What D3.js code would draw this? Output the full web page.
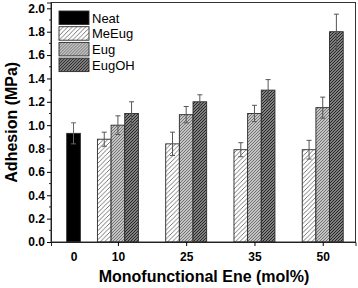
<!DOCTYPE html>
<html>
<head>
<meta charset="utf-8">
<script src="https://cdn.jsdelivr.net/npm/d3@7"></script>
<style>
  body { margin: 0; background: #fff; }
  svg { display: block; font-family: "Liberation Sans", Arial, sans-serif; }
</style>
</head>
<body>
<div id="chart"></div>
<script>
// group labels and their place on the x axis (Origin puts the "0" group closer)
const groupLabels = ['0', '10', '25', '35', '50'];
const groupPos = [0, 0.65, 1.65, 2.65, 3.65];

// Neat only at 0 mol%
const neatVals = [0.93];
const neatErr = [0.09];

// the three enes at 10, 25, 35, 50 mol%
const meEugVals = [0.88, 0.84, 0.79, 0.79];
const meEugErr = [0.06, 0.10, 0.06, 0.08];
const eugVals = [1.00, 1.09, 1.10, 1.15];
const eugErr = [0.08, 0.07, 0.07, 0.09];
const eugOHVals = [1.10, 1.20, 1.30, 1.80];
const eugOHErr = [0.10, 0.06, 0.09, 0.15];

const legendNames = ['Neat', 'MeEug', 'Eug', 'EugOH'];
const yTicks = [0, 0.2, 0.4, 0.6, 0.8, 1.0, 1.2, 1.4, 1.6, 1.8, 2.0];

const width = 358, height = 288;
const margin = { top: 2.5, right: 2.5, bottom: 46, left: 51 };

const svg = d3.select('#chart').append('svg')
    .attr('width', width)
    .attr('height', height);

// hatch patterns
const defs = svg.append('defs');
function hatch(id, bg, line, gap, lw) {
    const p = defs.append('pattern')
        .attr('id', id)
        .attr('patternUnits', 'userSpaceOnUse')
        .attr('width', gap)
        .attr('height', gap);
    p.append('rect').attr('width', gap).attr('height', gap).attr('fill', bg);
    // "/" direction lines, continued over tile edges
    p.append('path')
        .attr('d', `M0,${gap} L${gap},0 M${-gap / 2},${gap / 2} L${gap / 2},${-gap / 2} M${gap / 2},${gap * 1.5} L${gap * 1.5},${gap / 2}`)
        .attr('stroke', line)
        .attr('stroke-width', lw);
}
hatch('hMeEug', '#ffffff', '#555', 4.5, 0.8);
hatch('hEug', '#c4c4c4', '#6a6a6a', 3, 0.9);
hatch('hEugOH', '#808080', '#262626', 3, 1);

const fills = ['#000', 'url(#hMeEug)', 'url(#hEug)', 'url(#hEugOH)'];

const x = d3.scaleLinear()
    .domain([-0.33, 4.13])
    .range([margin.left, width - margin.right]);

const y = d3.scaleLinear()
    .domain([0, 2.05])
    .range([height - margin.bottom, margin.top]);

const barW = x(0.2) - x(0);

// build the bar records
const bars = [];
bars.push({ s: 0, pos: groupPos[0], off: 0, v: neatVals[0], e: neatErr[0] });
[meEugVals, eugVals, eugOHVals].forEach((vals, si) => {
    const errs = [meEugErr, eugErr, eugOHErr][si];
    vals.forEach((v, i) => {
        bars.push({ s: si + 1, pos: groupPos[i + 1], off: si - 1, v: v, e: errs[i] });
    });
});

const g = svg.append('g');

g.selectAll('.bar')
    .data(bars)
    .enter()
    .append('rect')
    .attr('class', 'bar')
    .attr('x', d => x(d.pos) + (d.off - 0.5) * barW)
    .attr('y', d => y(d.v))
    .attr('width', barW)
    .attr('height', d => y(0) - y(d.v))
    .attr('fill', d => fills[d.s])
    .attr('stroke', '#2a2a2a')
    .attr('stroke-width', 0.9);

// error bars
const eb = g.selectAll('.err')
    .data(bars)
    .enter()
    .append('g')
    .attr('class', 'err')
    .attr('stroke', d => d.s === 0 ? '#666' : '#555')
    .attr('stroke-width', 1);
eb.append('line')
    .attr('x1', d => x(d.pos) + d.off * barW)
    .attr('x2', d => x(d.pos) + d.off * barW)
    .attr('y1', d => y(d.v - d.e))
    .attr('y2', d => y(d.v + d.e));
eb.append('line')
    .attr('x1', d => x(d.pos) + d.off * barW - 2.5)
    .attr('x2', d => x(d.pos) + d.off * barW + 2.5)
    .attr('y1', d => y(d.v + d.e))
    .attr('y2', d => y(d.v + d.e));
eb.append('line')
    .attr('x1', d => x(d.pos) + d.off * barW - 2.5)
    .attr('x2', d => x(d.pos) + d.off * barW + 2.5)
    .attr('y1', d => y(d.v - d.e))
    .attr('y2', d => y(d.v - d.e));

// frame
svg.append('rect')
    .attr('x', margin.left)
    .attr('y', margin.top)
    .attr('width', width - margin.left - margin.right)
    .attr('height', height - margin.top - margin.bottom)
    .attr('fill', 'none')
    .attr('stroke', '#333')
    .attr('stroke-width', 1);

// y axis
const yAxis = svg.append('g')
    .attr('transform', `translate(${margin.left},0)`)
    .call(d3.axisLeft(y).tickValues(yTicks).tickFormat(d3.format('.1f')).tickSize(4).tickPadding(2));
yAxis.select('.domain').attr('stroke', '#222');
yAxis.selectAll('text')
    .style('font-size', '12px')
    .style('font-weight', 'bold')
    .style('font-family', '"Liberation Sans", Arial, sans-serif')
    .attr('fill', '#000');

// minor ticks
svg.append('g')
    .selectAll('line')
    .data(d3.range(1, 21, 2).map(k => k / 10))
    .enter()
    .append('line')
    .attr('x1', margin.left - 2)
    .attr('x2', margin.left)
    .attr('y1', d => y(d))
    .attr('y2', d => y(d))
    .attr('stroke', '#222');

// x axis
const xAxis = svg.append('g')
    .attr('transform', `translate(0,${height - margin.bottom})`)
    .call(d3.axisBottom(x).tickValues(groupPos).tickFormat((d, i) => groupLabels[i]).tickSize(4).tickPadding(6));
xAxis.select('.domain').attr('stroke', '#222');
xAxis.selectAll('.tick line').filter((d, i) => i === 0).remove();
xAxis.selectAll('text')
    .style('font-size', '12px')
    .style('font-weight', 'bold')
    .style('font-family', '"Liberation Sans", Arial, sans-serif')
    .attr('fill', '#000');

// axis titles
svg.append('text')
    .attr('x', 204)
    .attr('y', 282)
    .attr('text-anchor', 'middle')
    .style('font-size', '16px')
    .style('font-weight', 'bold')
    .text('Monofunctional Ene (mol%)');

svg.append('text')
    .attr('transform', 'rotate(-90)')
    .attr('x', -(margin.top + (height - margin.bottom - margin.top) / 2))
    .attr('y', 17)
    .attr('text-anchor', 'middle')
    .style('font-size', '16px')
    .style('font-weight', 'bold')
    .text('Adhesion (MPa)');

// legend
const legend = svg.append('g')
    .selectAll('g')
    .data(legendNames)
    .enter()
    .append('g')
    .attr('transform', (d, i) => `translate(59,${11 + i * 15.7})`);
legend.append('rect')
    .attr('width', 30)
    .attr('height', 13.5)
    .attr('fill', (d, i) => fills[i])
    .attr('stroke', '#2a2a2a')
    .attr('stroke-width', 0.9);
legend.append('text')
    .attr('x', 33)
    .attr('y', 11.5)
    .style('font-size', '13px')
    .text(d => d);
</script>
</body>
</html>
